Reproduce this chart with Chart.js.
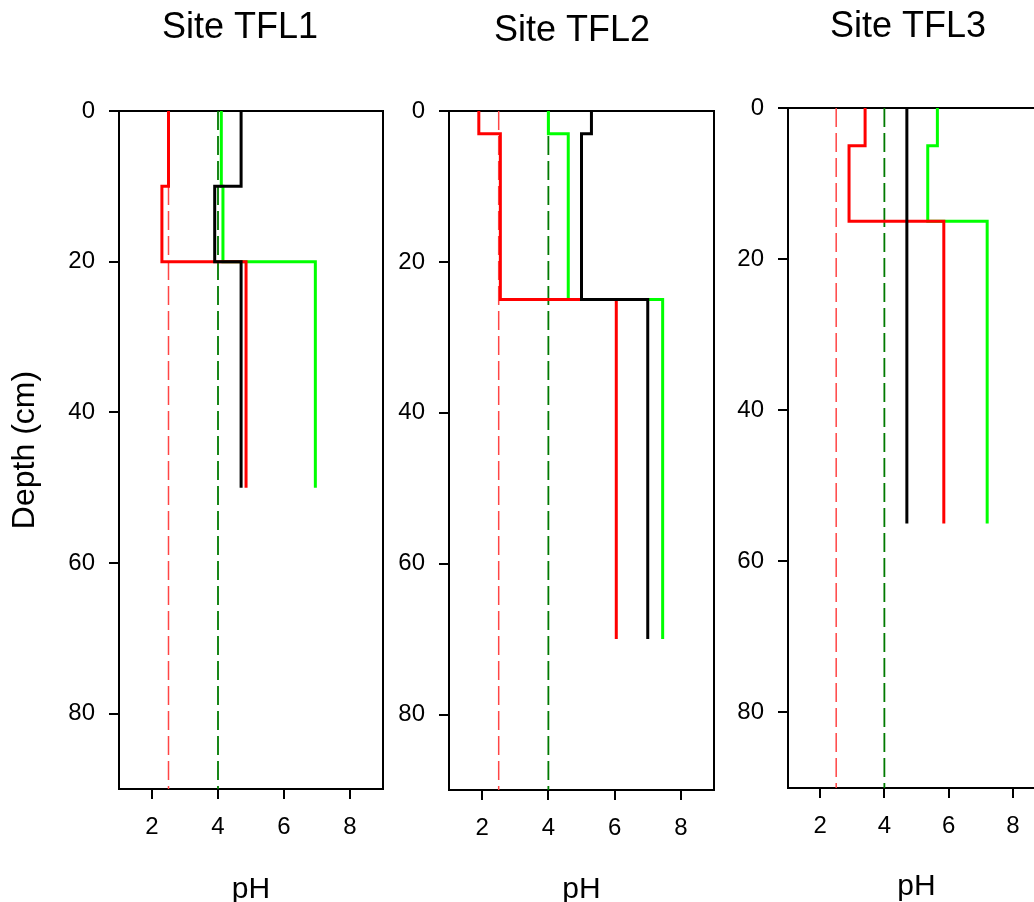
<!DOCTYPE html>
<html>
<head>
<meta charset="utf-8">
<title>Soil pH profiles</title>
<script src="https://cdn.jsdelivr.net/npm/chart.js@4.4.0/dist/chart.umd.min.js"></script>
<style>
  html, body { margin: 0; padding: 0; background: #fff; overflow: hidden; }
  #wrap { position: relative; width: 1034px; height: 902px; overflow: hidden; }
  #wrap canvas { position: absolute; top: 0; }
</style>
</head>
<body>
<div id="wrap">
  <canvas id="tfl1" width="480" height="902" style="left:0px"></canvas>
  <canvas id="tfl2" width="400" height="902" style="left:372px"></canvas>
  <canvas id="tfl3" width="400" height="902" style="left:708px"></canvas>
</div>
<script>
// layer boundaries (cm) and pH of each layer, per site
const depthTFL1 = [0, 10, 20, 50];
const blackTFL1 = [4.7, 3.9, 4.7];
const redTFL1 = [2.5, 2.3, 4.85];
const greenTFL1 = [4.1, 4.15, 6.95];

const depthTFL2 = [0, 3, 25, 70];
const blackTFL2 = [5.3, 5.0, 7.0];
const redTFL2 = [1.9, 2.55, 6.05];
const greenTFL2 = [4.0, 4.6, 7.45];

const depthTFL3 = [0, 5, 15, 55];
const blackTFL3 = [4.7, 4.7, 4.7];
const redTFL3 = [3.4, 2.9, 5.85];
const greenTFL3 = [5.65, 5.35, 7.2];

// reference pH levels (dashed)
const redLimit = 2.5;
const greenLimit = 4.0;

const depthRange = [0, 90];
const phRange = [1, 9];
const phTicks = [2, 4, 6, 8];
const depthTicks = [0, 20, 40, 60, 80];

const FONT = "'Liberation Sans', Arial, Helvetica, sans-serif";

// turn layer values into a stepped profile line
function steps(depths, values) {
  const pts = [];
  values.forEach((v, i) => {
    pts.push({ x: v, y: depths[i] });
    pts.push({ x: v, y: depths[i + 1] });
  });
  return pts;
}

function solid(color, pts) {
  return {
    data: pts, borderColor: color, borderWidth: 3, showLine: true,
    pointRadius: 0, borderJoinStyle: "miter", borderCapStyle: "butt"
  };
}

function dashed(color, ph, width) {
  return {
    data: [{ x: ph, y: depthRange[0] }, { x: ph, y: depthRange[1] }],
    borderColor: color, borderWidth: width, borderDash: [19, 6],
    showLine: true, pointRadius: 0
  };
}

// top and right edges of the plot box
const frame = {
  id: "frame",
  beforeDatasetsDraw(chart) {
    const { ctx, chartArea: a } = chart;
    ctx.save();
    ctx.strokeStyle = "#000";
    ctx.lineWidth = 2;
    ctx.beginPath();
    ctx.moveTo(a.left, a.top);
    ctx.lineTo(a.right, a.top);
    ctx.lineTo(a.right, a.bottom);
    ctx.stroke();
    ctx.restore();
  }
};

function makeChart(id, o) {
  new Chart(document.getElementById(id), {
    type: "scatter",
    data: {
      datasets: [
        solid("#000000", steps(o.depths, o.black)),
        solid("#ff0000", steps(o.depths, o.red)),
        solid("#00ff00", steps(o.depths, o.green)),
        dashed("#ff4545", redLimit, 1.5),
        dashed("#007a00", greenLimit, 1.8)
      ]
    },
    options: {
      responsive: false,
      devicePixelRatio: 1,
      animation: false,
      layout: { padding: 0 },
      plugins: {
        legend: { display: false },
        tooltip: { enabled: false },
        title: {
          display: true, text: o.title, color: "#000",
          font: { family: FONT, size: 36, weight: "normal", lineHeight: 1.2 },
          padding: { top: o.titleTop, bottom: o.titleBottom }
        }
      },
      scales: {
        x: {
          type: "linear", position: "bottom",
          min: phRange[0], max: phRange[1],
          afterBuildTicks: s => { s.ticks = phTicks.map(v => ({ value: v })); },
          afterFit: s => { s.height = o.xHeight; },
          ticks: { color: "#000", font: { family: FONT, size: 24 }, padding: 14, maxRotation: 0 },
          grid: { drawOnChartArea: false, color: "#000", lineWidth: 2, tickLength: 10 },
          border: { color: "#000", width: 2 },
          title: {
            display: true, text: "pH", color: "#000",
            font: { family: FONT, size: 30, lineHeight: 0.8 },
            padding: { top: 0, bottom: o.phPad }
          }
        },
        y: {
          type: "linear", position: "left", reverse: true,
          min: depthRange[0], max: depthRange[1],
          afterBuildTicks: s => { s.ticks = depthTicks.map(v => ({ value: v })); },
          afterFit: s => { s.width = o.yWidth; },
          ticks: { color: "#000", font: { family: FONT, size: 24 }, padding: 14 },
          grid: { drawOnChartArea: false, color: "#000", lineWidth: 2, tickLength: 10 },
          border: { color: "#000", width: 2 },
          title: {
            display: o.yTitle, text: "Depth (cm)", color: "#000",
            font: { family: FONT, size: 32, lineHeight: 1.2 },
            padding: { top: 6, bottom: 0 }
          }
        },
        // empty right-hand axis keeps the space beside the plot box
        y2: {
          type: "linear", position: "right",
          afterFit: s => { s.width = o.rightWidth; },
          ticks: { display: false },
          grid: { display: false },
          border: { display: false }
        }
      }
    },
    plugins: [frame]
  });
}

makeChart("tfl1", {
  title: "Site TFL1", depths: depthTFL1, black: blackTFL1, red: redTFL1, green: greenTFL1,
  yWidth: 119, rightWidth: 97, xHeight: 113, titleTop: 6, titleBottom: 61.8, phPad: 0, yTitle: true
});
makeChart("tfl2", {
  title: "Site TFL2", depths: depthTFL2, black: blackTFL2, red: redTFL2, green: greenTFL2,
  yWidth: 77, rightWidth: 58, xHeight: 112, titleTop: 9, titleBottom: 58.8, phPad: 0, yTitle: false
});
makeChart("tfl3", {
  title: "Site TFL3", depths: depthTFL3, black: blackTFL3, red: redTFL3, green: greenTFL3,
  yWidth: 80, rightWidth: 63, xHeight: 114, titleTop: 5, titleBottom: 59.8, phPad: 3, yTitle: false
});
</script>
</body>
</html>
